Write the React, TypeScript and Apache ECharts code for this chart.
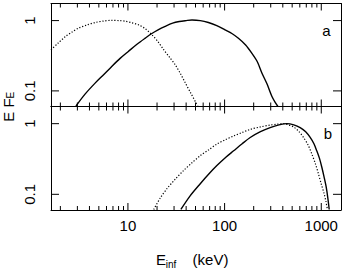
import React, { useEffect, useRef } from "react";
import * as echarts from "echarts";

// x: E_inf (keV), y: E F_E
const topSolid: [number, number][] = [
  [2.9, 0.061], [3.6, 0.09], [4.6, 0.13], [5.6, 0.17], [6.8, 0.223], [8.3, 0.29],
  [10.1, 0.364], [12.4, 0.46], [15.1, 0.563], [17.5, 0.65], [20.5, 0.74],
  [24.3, 0.83], [29, 0.92], [34, 0.97], [40, 1.0], [46, 1.02], [56, 1.0],
  [68, 0.94], [83, 0.85], [101, 0.74], [120, 0.65], [139, 0.56], [165, 0.45],
  [191, 0.345], [218, 0.26], [243, 0.18], [275, 0.125], [308, 0.084], [335, 0.068], [356, 0.06],
];
const topDotted: [number, number][] = [
  [1.6, 0.385], [1.9, 0.48], [2.25, 0.59], [2.65, 0.69], [3.08, 0.78], [3.8, 0.87],
  [4.59, 0.94], [5.6, 0.985], [6.84, 1.01], [8.1, 1.0], [9.4, 0.98], [11, 0.93],
  [12.9, 0.87], [15.2, 0.76], [17.7, 0.63], [20.5, 0.5], [23.3, 0.39],
  [27, 0.3], [30.8, 0.236], [35, 0.175], [39.2, 0.13], [44.5, 0.094], [50.5, 0.068], [53, 0.06],
];
const bottomSolid: [number, number][] = [
  [35.3, 0.061], [44, 0.095], [56, 0.141], [69, 0.195], [83.2, 0.255], [103, 0.335],
  [124, 0.413], [152, 0.52], [184, 0.637], [235, 0.77], [296, 0.88], [365, 0.96],
  [441, 1.0], [520, 0.96], [605, 0.88], [690, 0.77], [768, 0.64], [840, 0.52],
  [900, 0.41], [960, 0.32], [1015, 0.24], [1070, 0.175], [1124, 0.127], [1170, 0.088], [1208, 0.061],
];
const bottomDotted: [number, number][] = [
  [18.5, 0.061], [21.5, 0.088], [25.3, 0.12], [31, 0.165], [37.6, 0.217], [46, 0.28],
  [56, 0.352], [69, 0.43], [83, 0.513], [102, 0.595], [124, 0.67], [152, 0.75],
  [184, 0.83], [235, 0.9], [296, 0.955], [350, 0.985], [406, 1.0], [460, 0.96],
  [515, 0.9], [585, 0.78], [654, 0.64], [730, 0.5], [800, 0.37], [870, 0.27],
  [935, 0.195], [1000, 0.14], [1071, 0.102], [1115, 0.08], [1158, 0.061],
];

const xMin = 1.6;
const xMax = 1600;
const yMin = 0.06;
const yMax = 1.75;
const xMajorTicks = [10, 100, 1000];
const yMajorTicks = [0.1, 1];
const xMinorTicks = [2, 3, 4, 5, 6, 7, 8, 9, 20, 30, 40, 50, 60, 70, 80, 90, 200, 300, 400, 500, 600, 700, 800, 900];

const FONT = "Liberation Sans";

const GRID_W = 290;
const PANEL_H = [103, 103.5];

export default function App() {
  const ref = useRef<HTMLDivElement>(null);
  useEffect(() => {
    if (!ref.current) return;
    const chart = echarts.init(ref.current, null, { renderer: "svg" });
    const lineAxis = { show: true, onZero: false, lineStyle: { color: "#000", width: 1 } };
    const fmt = (v: number) => String(+Number(v).toPrecision(6));

    const mkX = (gridIndex: number, position: string, labels: boolean) => ({
      type: "log",
      gridIndex,
      position,
      min: xMin,
      max: xMax,
      logBase: 10,
      axisLine: lineAxis,
      axisTick: { show: false },
      axisLabel: {
        show: labels,
        customValues: xMajorTicks,
        margin: 8,
        fontSize: 15,
        fontFamily: FONT,
        color: "#000",
        formatter: fmt,
      },
      splitLine: { show: false },
    });
    const mkY = (gridIndex: number, position: string, labels: boolean) => ({
      type: "log",
      gridIndex,
      position,
      min: yMin,
      max: yMax,
      logBase: 10,
      axisLine: lineAxis,
      axisTick: { show: false },
      axisLabel: {
        show: labels,
        customValues: yMajorTicks,
        rotate: 90,
        margin: 14,
        fontSize: 15,
        fontFamily: FONT,
        color: "#000",
        formatter: fmt,
      },
      splitLine: { show: false },
    });
    const lineSeries = (data: [number, number][], xi: number, yi: number, dotted: boolean) => ({
      type: "line",
      xAxisIndex: xi,
      yAxisIndex: yi,
      data,
      showSymbol: false,
      symbol: "none",
      smooth: 0.3,
      clip: true,
      lineStyle: dotted
        ? { color: "#000", width: 1.2, type: [1.2, 1.8] }
        : { color: "#000", width: 1.4 },
    });

    // tick marks as short line segments in data space (lengths converted from pixels via the log scales)
    const xDecPx = GRID_W / Math.log10(xMax / xMin);
    const tickSeries = (xi: number, yi: number, panelH: number) => {
      const yDecPx = panelH / Math.log10(yMax / yMin);
      const fy = (px: number) => Math.pow(10, px / yDecPx);
      const fx = (px: number) => Math.pow(10, px / xDecPx);
      const data: any[] = [];
      const addX = (vals: number[], len: number) => {
        for (const v of vals) {
          data.push([v, yMax], [v, yMax / fy(len)], [v, "-"]);
          data.push([v, yMin], [v, yMin * fy(len)], [v, "-"]);
        }
      };
      addX(xMajorTicks, 7);
      addX(xMinorTicks, 4);
      for (const v of yMajorTicks) {
        data.push([xMin, v], [xMin * fx(8), v], ["-", v]);
        data.push([xMax, v], [xMax / fx(8), v], ["-", v]);
      }
      return {
        type: "line",
        xAxisIndex: xi,
        yAxisIndex: yi,
        data,
        silent: true,
        showSymbol: false,
        symbol: "none",
        connectNulls: false,
        clip: false,
        z: 5,
        lineStyle: { color: "#000", width: 1 },
      };
    };

    const textEl = (x: number, y: number, text: string, fontSize: number) => ({
      type: "text",
      x,
      y,
      silent: true,
      style: { text, fontSize, fontFamily: FONT, fill: "#000", textAlign: "center", textVerticalAlign: "middle" },
    });

    chart.setOption({
      animation: false,
      grid: [
        { left: 51, top: 3.5, width: GRID_W, height: PANEL_H[0], containLabel: false, outerBoundsMode: "none" },
        { left: 51, top: 106.5, width: GRID_W, height: PANEL_H[1], containLabel: false, outerBoundsMode: "none" },
        { left: 51, top: 3.5, width: GRID_W, height: 206.5, containLabel: false, outerBoundsMode: "none" },
      ],
      xAxis: [
        mkX(0, "bottom", false),
        mkX(0, "top", false),
        mkX(1, "bottom", true),
        mkX(1, "top", false),
        { type: "value", gridIndex: 2, min: 0, max: 1, show: false },
      ],
      yAxis: [
        mkY(0, "left", true),
        mkY(0, "right", false),
        mkY(1, "left", true),
        mkY(1, "right", false),
        {
          type: "value",
          gridIndex: 2,
          position: "left",
          min: 0,
          max: 1,
          axisLine: { show: false, onZero: false },
          axisTick: { show: false },
          axisLabel: { show: false },
          splitLine: { show: false },
          name: "{m|E F}{s|E}",
          nameLocation: "middle",
          nameRotate: 90,
          nameGap: 36,
          nameMoveOverlap: false,
          nameTextStyle: {
            color: "#000",
            fontFamily: FONT,
            rich: {
              m: { fontSize: 15, fontFamily: FONT, color: "#000", lineHeight: 14 },
              s: { fontSize: 10, fontFamily: FONT, color: "#000", lineHeight: 10, verticalAlign: "bottom" },
            },
          },
        },
      ],
      series: [
        lineSeries(topSolid, 0, 0, false),
        lineSeries(topDotted, 0, 0, true),
        lineSeries(bottomSolid, 2, 2, false),
        lineSeries(bottomDotted, 2, 2, true),
        tickSeries(0, 0, PANEL_H[0]),
        tickSeries(2, 2, PANEL_H[1]),
      ],
      graphic: [
        textEl(326.5, 30.5, "a", 15),
        textEl(328, 133, "b", 15),
        textEl(161, 259.5, "E", 15),
        textEl(171, 264, "inf", 10),
        textEl(210.5, 259.5, "(keV)", 15),
      ],
    });

    return () => chart.dispose();
  }, []);
  return <div ref={ref} style={{ width: 344, height: 273, position: "absolute", left: 0, top: 0 }} />;
}
